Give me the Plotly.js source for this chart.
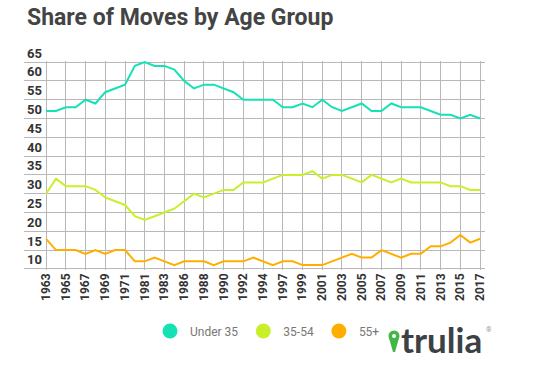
<!DOCTYPE html>
<html>
<head>
<meta charset="utf-8">
<script src="https://cdn.plot.ly/plotly-3.0.1.min.js"></script>
<style>
html,body{margin:0;padding:0;background:#fff;}
#chart{width:538px;height:366px;}
</style>
</head>
<body>
<div id="chart"></div>
<script>
var years = ["1963","1964","1965","1966","1967","1968","1969","1970","1971","1980",
  "1981","1982","1983","1984","1986","1987","1988","1989","1990","1991","1992","1993","1994",
  "1996","1997","1998","1999","2000","2001","2002","2003","2004","2005","2006","2007","2008",
  "2009","2010","2011","2012","2013","2014","2015","2016","2017"];
var under35 = [52,52,53,53,55,54,57,58,59,64,65,64,64,63,60,58,59,59,58,57,55,55,55,
  55,53,53,54,53,55,53,52,53,54,52,52,54,53,53,53,52,51,51,50,51,50];
var age35to54 = [30,34,32,32,32,31,29,28,27,24,23,24,25,26,28,30,29,30,31,31,33,33,33,
  34,35,35,35,36,34,35,35,34,33,35,34,33,34,33,33,33,33,32,32,31,31];
var age55plus = [18,15,15,15,14,15,14,15,15,12,12,13,12,11,12,12,12,11,12,12,12,13,12,
  11,12,12,11,11,11,12,13,14,13,13,15,14,13,14,14,16,16,17,19,17,18];
var seriesNames = ["Under 35","35-54","55+"];
var colors = ["#14e2b6","#c8f02a","#ffae00"];
var yTicks = [10,15,20,25,30,35,40,45,50,55,60,65];
var tickYears = years.filter(function(y,i){return i%2===0;});

var vals = [under35, age35to54, age55plus];
var traces = [];
vals.forEach(function(v,i){
  traces.push({x:years, y:v, type:'scatter', mode:'lines', name:seriesNames[i],
    line:{color:colors[i], width:2}, showlegend:false, hoverinfo:'x+y'});
});
vals.forEach(function(v,i){
  traces.push({x:[null], y:[null], type:'scatter', mode:'markers', name:seriesNames[i],
    marker:{color:colors[i], size:15, symbol:'circle'}, showlegend:true});
});

var pinX = (394-24)/461, pinY = (269-335)/209;
var layout = {
  width:538, height:366,
  margin:{l:24, r:53, t:61, b:96},
  paper_bgcolor:'#fff', plot_bgcolor:'#fff',
  font:{family:'Roboto, sans-serif', color:'#333'},
  title:{text:'Share of Moves by Age Group', xref:'container', yref:'container',
    x:27/538, xanchor:'left', y:1-17/366, yanchor:'middle',
    font:{family:'Roboto, sans-serif', size:23, color:'#444', weight:'bold'}},
  xaxis:{type:'category', range:[-2.24, 44.5], tickmode:'array', tickvals:tickYears, ticktext:tickYears,
    tickangle:-90, showgrid:true, gridcolor:'#b8b8b8', gridwidth:1, zeroline:false,
    showline:false, ticks:'',
    tickfont:{family:'Roboto, sans-serif', size:12, color:'#333', weight:'bold'}},
  yaxis:{range:[9.7,65.3], tickmode:'array', tickvals:yTicks, ticktext:yTicks.map(String),
    ticklabelposition:'inside top', ticklabeloverflow:'allow', showgrid:true,
    gridcolor:'#b8b8b8', gridwidth:1, zeroline:false, showline:false, ticks:'',
    tickfont:{family:'Roboto, sans-serif', size:13, color:'#333', weight:'bold'}},
  legend:{orientation:'h', x:(150-24)/461, xanchor:'left', y:(269-330)/209, yanchor:'middle',
    font:{family:'Roboto, sans-serif', size:12, color:'#777'}, itemwidth:30, bgcolor:'rgba(0,0,0,0)'},
  annotations:[
    {xref:'paper', yref:'paper', x:(399-24)/461, y:(269-338)/209, xanchor:'left', yanchor:'middle',
     text:'trulia', showarrow:false,
     font:{family:'Lato, sans-serif', size:35, color:'#3b4144', weight:'bold'}},
    {xref:'paper', yref:'paper', x:(484-24)/461, y:(269-329)/209, xanchor:'left', yanchor:'middle',
     text:'®', showarrow:false, font:{family:'Roboto, sans-serif', size:7, color:'#999'}}
  ],
  shapes:[
    {type:'path', xref:'paper', yref:'paper', xsizemode:'pixel', ysizemode:'pixel',
     xanchor:pinX, yanchor:pinY,
     path:'M -5,-2 L 5,-2 L 1,-16 L -1,-16 Z',
     fillcolor:'#43b649', line:{width:0}},
    {type:'circle', xref:'paper', yref:'paper', xsizemode:'pixel', ysizemode:'pixel',
     xanchor:pinX, yanchor:pinY, x0:-5.5, x1:5.5, y0:-5.5, y1:5.5,
     fillcolor:'#43b649', line:{width:0}},
    {type:'circle', xref:'paper', yref:'paper', xsizemode:'pixel', ysizemode:'pixel',
     xanchor:pinX, yanchor:pinY, x0:-2, x1:2, y0:-2, y1:2,
     fillcolor:'#fff', line:{width:0}}
  ]
};
Plotly.newPlot('chart', traces, layout, {displayModeBar:false, staticPlot:true});
</script>
</body>
</html>
